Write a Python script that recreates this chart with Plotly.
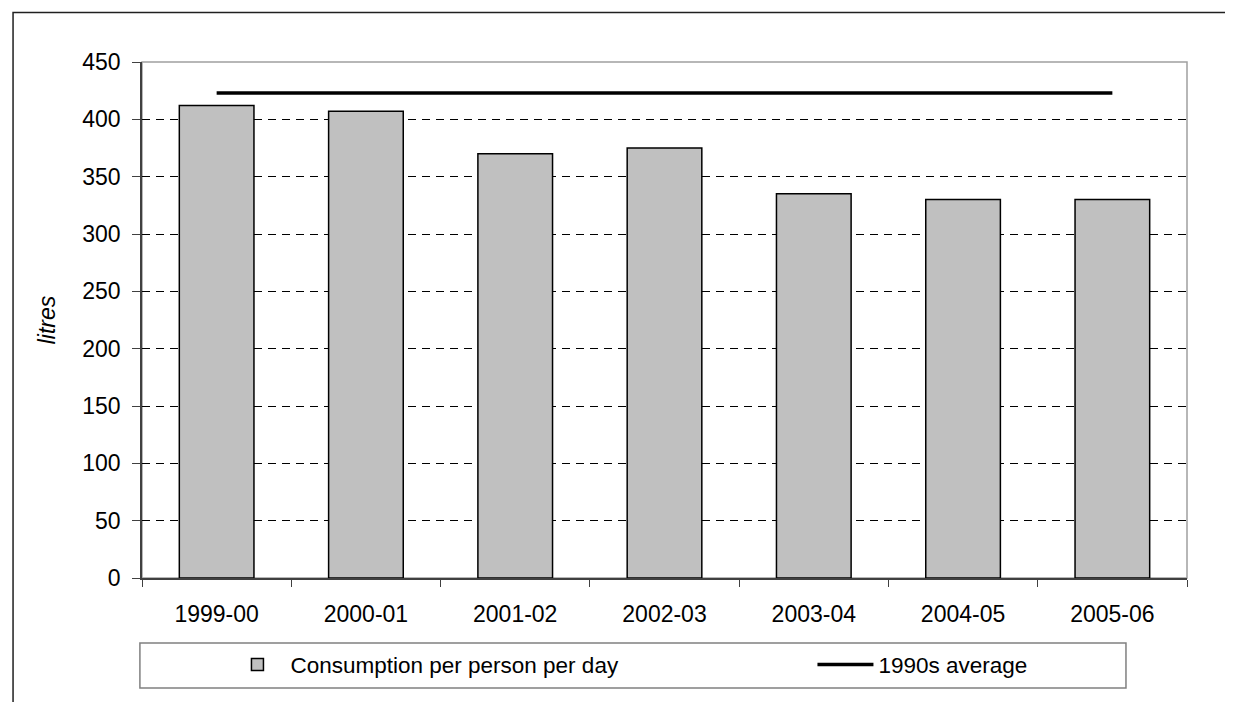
import plotly.graph_objects as go

categories = ["1999-00", "2000-01", "2001-02", "2002-03", "2003-04", "2004-05", "2005-06"]
consumption = [412, 407, 370, 375, 335, 330, 330]
average_1990s = [423, 423, 423, 423, 423, 423, 423]
y_ticks = [0, 50, 100, 150, 200, 250, 300, 350, 400, 450]

FONT = "Arial, Liberation Sans, sans-serif"

fig = go.Figure()
fig.add_trace(go.Bar(
    x=categories, y=consumption, name="Consumption per person per day",
    marker=dict(color="#C0C0C0", line=dict(color="#000000", width=1.5)),
    width=0.5, legendwidth=517,
))
fig.add_trace(go.Scatter(
    x=categories, y=average_1990s, name="1990s average", mode="lines",
    line=dict(color="#000000", width=3.5), legendwidth=160,
))

fig.update_layout(
    width=1225, height=694,
    margin=dict(l=134, r=46, t=54, b=124, pad=0),
    paper_bgcolor="white", plot_bgcolor="white",
    font=dict(family=FONT, size=23, color="#000000"),
    showlegend=True,
    legend=dict(
        orientation="h", x=0.0789, y=-0.1686, xanchor="left", yanchor="middle",
        bgcolor="rgba(0,0,0,0)", borderwidth=0,
        itemwidth=56,
        font=dict(family=FONT, size=22.5, color="#000000"),
        traceorder="normal",
    ),
)

fig.update_xaxes(
    type="category", showgrid=False, showline=True, linecolor="#404040", linewidth=1.5,
    ticks="outside", ticklen=7, tickcolor="#404040", tickwidth=1,
    tickson="boundaries", ticklabelstandoff=15, zeroline=False,
)
fig.update_yaxes(
    range=[0, 450], tickvals=y_ticks, showgrid=True,
    gridcolor="#000000", griddash="8px,6px", gridwidth=1,
    showline=True, linecolor="#404040", linewidth=1.5,
    ticks="outside", ticklen=8, tickcolor="#404040", tickwidth=1,
    ticklabelstandoff=7, zeroline=False,
    title=dict(text="<i>litres</i>", standoff=20, font=dict(family=FONT, size=23)),
)

# plot-area border (grey top/right)
fig.add_shape(type="rect", xref="paper", yref="paper", x0=0, x1=1, y0=0, y1=1,
              line=dict(color="#A0A0A0", width=1.5), layer="below")
# legend box
fig.add_shape(type="rect", xref="paper", yref="paper", x0=-0.002, x1=0.9416,
              y0=-0.2132, y1=-0.126, line=dict(color="#808080", width=1.5))
# outer chart border
fig.add_shape(type="rect", xref="paper", yref="paper", x0=-0.1234, x1=1.2,
              y0=-0.3, y1=1.0959, line=dict(color="#202020", width=1.5))

fig.write_html("out.html")
